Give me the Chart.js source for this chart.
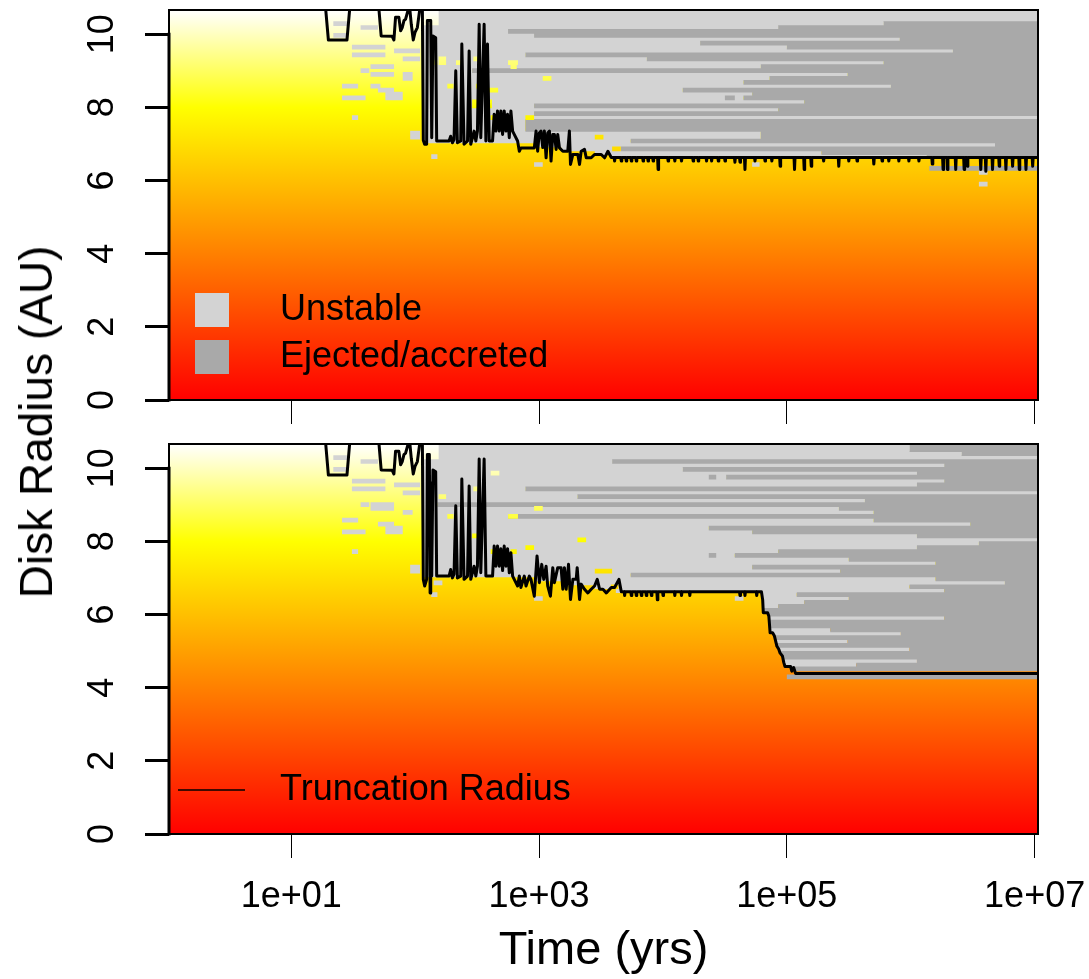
<!DOCTYPE html>
<html>
<head>
<meta charset="utf-8">
<title>Disk radius vs time</title>
<script src="https://cdn.jsdelivr.net/npm/chart.js@4.4.1/dist/chart.umd.min.js"></script>
<style>
  body { margin: 0; background: #fff; }
  #page { position: relative; width: 1089px; height: 979px; overflow: hidden; }
  canvas { position: absolute; left: 0; }
  #topChart { top: 0; }
  #botChart { top: 432px; }
  #ylabel {
    position: absolute; left: 36px; top: 422px;
    transform: translate(-50%, -50%) rotate(-90deg);
    font: 46px "Liberation Sans", Arial, sans-serif; line-height: 1;
    white-space: nowrap; color: #000;
  }
</style>
</head>
<body>
<div id="page">
  <canvas id="topChart" width="1089" height="432"></canvas>
  <canvas id="botChart" width="1089" height="547"></canvas>
  <div id="ylabel">Disk Radius (AU)</div>
</div>
<script>
// times are log10(years), radii in AU

const xTickValues = [10, 1e3, 1e5, 1e7];
const xTickLabels = ['1e+01', '1e+03', '1e+05', '1e+07'];
const yTickValues = [0, 2, 4, 6, 8, 10];
const yTickLabels = ['0', '2', '4', '6', '8', '10'];

// radius bins (AU) of the stability grid
const rowRadius = [10.610, 10.503, 10.396, 10.289, 10.182, 10.075, 9.968, 9.861, 9.754, 9.647,
  9.540, 9.433, 9.326, 9.219, 9.112, 9.005, 8.898, 8.791, 8.684, 8.577,
  8.470, 8.363, 8.256, 8.149, 8.042, 7.935, 7.828, 7.721, 7.614, 7.507,
  7.400, 7.293, 7.186, 7.079, 6.972, 6.865, 6.758, 6.651, 6.544, 6.437,
  6.330, 6.223, 6.116, 6.009, 5.902, 5.795, 5.688, 5.581, 5.474, 5.367,
  5.260, 5.153, 5.046, 4.939, 4.832, 4.725, 4.618, 4.511, 4.404, 4.297];

// top panel: time each bin turns unstable / gets ejected (null = never)
const topUnstable = [2.19, 2.19, 2.19, 2.19, 2.06, 2.06, 2.06, 2.06, 2.06, 2.06,
  2.06, 2.06, 2.06, 2.06, 2.06, 2.06, 2.06, 2.06, 2.06, 2.06,
  2.06, 2.06, 2.06, 2.06, 2.06, 2.06, 2.06, 2.06, 2.06, 2.06,
  2.06, 2.06, 2.06, 2.06, 2.96, 3.18, 3.45, 3.58];
const topEjected = [null, null, null, 5.78, 4.93, 2.75, 2.96, 5.91, 4.30, 5.00,
  6.34, 2.89, 3.87, 5.78, 4.79, 2.46, 5.49, 4.86, 4.65, 5.84,
  4.16, 4.72, 4.65, 5.14, 2.96, 4.93, 2.96, null, 2.89, 2.89,
  2.89, 4.79, 4.79, 3.74, 6.68, 3.66, 5.28, 6.13];
// isolated cells [from, to, bin]
const topSpeckles = [[1.34, 1.45, 3], [1.34, 1.45, 6], [1.56, 1.70, 4], [1.49, 1.76, 9], [1.49, 1.76, 11],
  [1.64, 1.83, 14], [1.56, 1.63, 15], [1.64, 1.83, 16], [1.41, 1.54, 19], [1.64, 1.72, 19],
  [1.41, 1.60, 22], [1.70, 1.83, 20], [1.76, 1.90, 21], [1.76, 1.90, 22], [1.49, 1.54, 27],
  [1.90, 1.98, 16], [1.90, 1.98, 17], [1.83, 2.04, 10], [1.90, 2.04, 12], [1.96, 2.04, 31],
  [1.96, 2.04, 32], [2.13, 2.18, 37], [2.96, 3.03, 39], [4.72, 4.78, 39], [6.55, 6.62, 41], [6.55, 6.62, 44]];
const topDarkCells = [[6.15, 7.03, 40], [4.50, 4.58, 22]];
const topHoles = [[2.19, 2.25, 12], [2.19, 2.25, 13], [2.47, 2.51, 12], [2.75, 2.83, 13], [2.26, 2.31, 19],
  [2.49, 2.51, 19], [2.59, 2.67, 20], [2.46, 2.50, 23], [2.46, 2.50, 24], [2.59, 2.62, 23],
  [2.59, 2.62, 24], [2.33, 2.37, 13], [2.13, 2.18, 13], [2.77, 2.82, 14], [3.03, 3.10, 17],
  [2.89, 2.96, 27], [3.45, 3.52, 32], [3.59, 3.66, 35], [2.47, 2.50, 32], [2.61, 2.69, 27]];

// top panel truncation radius
const topTruncT = [0.00, 1.27, 1.30, 1.45, 1.48, 1.70, 1.726, 1.815, 1.829, 1.842,
  1.869, 1.883, 1.896, 1.910, 1.923, 1.942, 1.958, 1.969, 1.985, 1.999,
  2.018, 2.036, 2.045, 2.058, 2.066, 2.077, 2.093, 2.099, 2.126, 2.134,
  2.144, 2.166, 2.174, 2.206, 2.233, 2.274, 2.287, 2.301, 2.314, 2.328,
  2.341, 2.368, 2.377, 2.395, 2.423, 2.436, 2.449, 2.476, 2.490, 2.503,
  2.517, 2.530, 2.557, 2.571, 2.584, 2.598, 2.625, 2.638, 2.652, 2.665,
  2.679, 2.692, 2.706, 2.719, 2.733, 2.746, 2.760, 2.773, 2.787, 2.800,
  2.827, 2.841, 2.854, 2.881, 2.908, 2.935, 2.962, 2.976, 2.989, 3.002,
  3.016, 3.030, 3.043, 3.057, 3.070, 3.084, 3.097, 3.111, 3.124, 3.138,
  3.151, 3.165, 3.192, 3.232, 3.245, 3.254, 3.273, 3.313, 3.327, 3.340,
  3.367, 3.381, 3.421, 3.448, 3.502, 3.529, 3.556, 3.583];
const topTruncR = [11.0, 11.0, 9.84, 9.84, 11.0, 11.0, 9.95, 9.94, 9.84, 10.46,
  10.46, 10.09, 10.18, 10.37, 10.41, 10.64, 10.66, 10.27, 9.84, 10.05,
  10.18, 10.64, 11.0, 11.0, 7.10, 6.99, 6.99, 10.37, 10.37, 7.17,
  9.95, 9.90, 7.08, 7.08, 7.08, 7.08, 7.21, 7.03, 7.12, 9.00,
  7.03, 7.08, 9.73, 6.99, 7.08, 9.54, 6.99, 7.35, 7.08, 7.35,
  10.27, 7.17, 10.27, 7.08, 9.73, 7.08, 7.08, 7.81, 7.35, 7.90,
  7.35, 7.90, 7.26, 7.90, 7.35, 7.81, 7.17, 7.90, 7.35, 7.26,
  7.08, 6.80, 6.89, 6.89, 6.89, 6.89, 6.89, 7.35, 6.80, 7.30,
  7.35, 6.90, 7.35, 6.62, 7.30, 7.35, 6.53, 7.26, 7.26, 6.85,
  7.26, 6.89, 6.80, 6.80, 7.35, 6.44, 6.71, 6.71, 6.44, 6.80,
  6.85, 6.62, 6.62, 6.71, 6.71, 6.62, 6.80, 6.63];
const topBase = 6.63;
const topDipT = [3.610, 3.664, 3.704, 3.745, 3.785, 3.840, 3.880, 3.921, 3.961, 4.042,
  4.096, 4.150, 4.244, 4.285, 4.352, 4.393, 4.447, 4.501, 4.581, 4.622,
  4.662, 4.743, 4.824, 4.879, 4.946, 5.062, 5.140, 5.197, 5.297, 5.419,
  5.500, 5.567, 5.702, 5.769, 5.823, 5.904, 5.985, 6.066, 6.174, 6.261,
  6.296, 6.363, 6.431, 6.457, 6.565, 6.606, 6.660, 6.714, 6.768, 6.822,
  6.876, 6.930, 6.984];
const topDipR = [6.53, 6.53, 6.53, 6.53, 6.53, 6.53, 6.53, 6.53, 6.30, 6.53,
  6.53, 6.53, 6.53, 6.53, 6.53, 6.53, 6.53, 6.53, 6.50, 6.50,
  6.30, 6.53, 6.53, 6.53, 6.39, 6.30, 6.30, 6.39, 6.53, 6.39,
  6.53, 6.53, 6.45, 6.53, 6.53, 6.53, 6.53, 6.53, 6.45, 6.30,
  6.30, 6.30, 6.30, 6.39, 6.30, 6.25, 6.30, 6.39, 6.30, 6.39,
  6.30, 6.30, 6.39];
const topTailT = [7.03];
const topTailR = [6.63];

// bottom panel
const botUnstable = [2.19, 2.19, 2.19, 2.19, 2.06, 2.06, 2.06, 2.06, 2.06, 2.06,
  2.06, 2.06, 2.06, 2.06, 2.06, 2.06, 2.06, 2.06, 2.06, 2.06,
  2.06, 2.06, 2.06, 2.06, 2.06, 2.06, 2.06, 2.06, 2.06, 2.06,
  2.06, 2.06, 2.06, 2.06, 2.96, 3.18, 3.45, 3.62, 4.805, 4.805,
  4.81, 4.81, 4.81, 4.85, 4.86, 4.86, 4.865, 4.865, 4.89, 4.91,
  4.915, 4.92, 4.94, 4.95, 4.97, 4.975, 4.98, 5.04, null, 5.00];
const botEjected = [5.99, 5.99, 6.41, null, 3.59, 6.27, 4.16, 6.05, 4.51, 6.27,
  6.05, 2.89, null, 3.31, 5.63, 2.18, 5.42, 5.70, 2.75, 5.70,
  6.48, 4.37, 4.72, 6.05, null, 6.55, 6.05, 4.93, 4.58, 5.50,
  6.20, 4.72, 5.43, 3.74, 6.20, 6.76, 5.99, 6.27, 5.08, 5.50,
  5.14, 4.93, 4.81, 4.85, 6.27, 4.86, 4.865, 5.35, 5.92, 4.91,
  5.49, 4.92, 5.99, 4.95, 4.97, 6.05, 5.56, 5.04, null, 5.00];
const botSpeckles = [[1.34, 1.45, 3], [1.34, 1.45, 6], [1.56, 1.70, 4], [1.49, 1.76, 9], [1.49, 1.76, 11],
  [1.64, 1.83, 15], [1.64, 1.83, 16], [1.56, 1.63, 15], [1.41, 1.54, 19], [1.41, 1.60, 22],
  [1.70, 1.83, 20], [1.76, 1.90, 21], [1.76, 1.90, 22], [1.49, 1.54, 27], [1.90, 1.98, 17],
  [1.83, 2.04, 10], [1.90, 2.04, 12], [1.96, 2.04, 31], [1.96, 2.04, 32], [2.13, 2.18, 38],
  [2.15, 2.22, 35], [2.96, 3.03, 39], [4.58, 4.65, 39]];
const botDarkCells = [[4.37, 4.43, 8], [4.37, 4.43, 28]];
const botHoles = [[2.96, 3.03, 16], [3.31, 3.38, 24], [2.89, 2.96, 26], [3.45, 3.59, 32], [2.77, 2.82, 27],
  [3.58, 3.64, 36], [2.61, 2.68, 7], [2.19, 2.25, 13], [2.47, 2.51, 11], [2.26, 2.31, 18],
  [2.46, 2.52, 23], [2.75, 2.83, 18], [2.61, 2.69, 27]];

const botTruncT = [0.00, 1.27, 1.30, 1.45, 1.48, 1.70, 1.726, 1.815, 1.829, 1.842,
  1.869, 1.883, 1.896, 1.910, 1.923, 1.942, 1.958, 1.969, 1.985, 1.999,
  2.018, 2.036, 2.045, 2.058, 2.066, 2.077, 2.093, 2.099, 2.115, 2.121,
  2.126, 2.134, 2.144, 2.166, 2.174, 2.206, 2.233, 2.274, 2.287, 2.301,
  2.314, 2.328, 2.341, 2.368, 2.377, 2.395, 2.423, 2.436, 2.449, 2.476,
  2.490, 2.503, 2.517, 2.530, 2.557, 2.571, 2.598, 2.625, 2.638, 2.652,
  2.665, 2.679, 2.692, 2.706, 2.719, 2.733, 2.746, 2.760, 2.773, 2.787,
  2.800, 2.827, 2.841, 2.854, 2.881, 2.895, 2.922, 2.935, 2.962, 2.984,
  3.003, 3.022, 3.038, 3.057, 3.070, 3.092, 3.111, 3.124, 3.151, 3.178,
  3.192, 3.205, 3.219, 3.238, 3.254, 3.273, 3.300, 3.308, 3.327, 3.340,
  3.367, 3.394, 3.421, 3.448, 3.470, 3.489, 3.516, 3.543, 3.583, 3.610,
  3.645, 3.664];
const botTruncR = [11.0, 11.0, 9.81, 9.81, 11.0, 11.0, 9.95, 9.94, 9.84, 10.46,
  10.46, 10.09, 10.18, 10.37, 10.41, 10.64, 10.66, 10.27, 9.84, 10.05,
  10.18, 10.64, 11.0, 11.0, 6.96, 6.78, 6.96, 10.37, 10.37, 6.59,
  9.60, 7.05, 9.95, 9.90, 7.05, 7.05, 7.05, 7.05, 7.23, 7.00,
  7.10, 8.97, 7.00, 7.05, 9.70, 6.96, 7.05, 9.51, 6.96, 7.32,
  7.05, 7.32, 10.25, 7.14, 10.25, 7.05, 7.05, 7.05, 7.87, 7.32,
  7.87, 7.32, 7.80, 7.20, 7.87, 7.32, 7.80, 7.14, 7.69, 7.05,
  6.96, 6.78, 7.05, 6.74, 7.05, 6.78, 7.05, 6.96, 6.50, 7.60,
  6.87, 7.37, 6.96, 7.32, 6.78, 6.50, 7.28, 6.87, 7.28, 7.28,
  6.69, 7.28, 6.69, 7.37, 6.41, 6.96, 6.96, 7.28, 6.41, 6.83,
  6.69, 6.59, 6.69, 6.78, 6.96, 6.69, 6.69, 6.59, 6.74, 6.74,
  6.96, 6.62];
const botBase = 6.62;
const botDipT = [3.691, 3.745, 3.785, 3.826, 3.866, 3.907, 3.955, 4.001, 4.096, 4.150,
  4.217, 4.622, 4.662, 4.757];
const botDipR = [6.52, 6.52, 6.52, 6.52, 6.52, 6.52, 6.40, 6.52, 6.52, 6.52,
  6.52, 6.52, 6.52, 6.52];
const botTailT = [4.795, 4.805, 4.810, 4.845, 4.855, 4.865, 4.885, 4.900, 4.920, 4.935,
  4.945, 4.965, 4.975, 4.985, 5.030, 5.040, 5.055, 5.070, 7.030];
const botTailR = [6.62, 6.40, 6.05, 6.05, 5.95, 5.50, 5.50, 5.41, 5.13, 5.05,
  4.95, 4.86, 4.69, 4.58, 4.58, 4.45, 4.55, 4.39, 4.39];

// ---- drawing setup ----
const X_MIN = 0.0137, X_MAX = 7.027, X_END = 7.03;
const Y_MAX = 10.66;
const ROW_H = 0.107;
const FONT = '"Liberation Sans", Arial, sans-serif';
const LIGHT = '#d3d3d3', DARK = '#a9a9a9';

function yrs(L) { return Math.pow(10, L); }

function segmentPoints(list) {
  const pts = [];
  list.forEach(s => {
    const r = rowRadius[s[2]];
    pts.push({x: yrs(s[0]), y: r}, {x: yrs(s[1]), y: r}, {x: yrs(s[1]), y: null});
  });
  return pts;
}

function unstableSegs(tU, tE) {
  const out = [];
  tU.forEach((a, k) => {
    if (a === null) return;
    const b = tE[k] === null ? X_END : tE[k];
    if (b > a) out.push([a, b, k]);
  });
  return out;
}

function ejectedSegs(tU, tE) {
  const out = [];
  tE.forEach((b, k) => {
    if (b !== null && tU[k] !== null) out.push([Math.max(b, tU[k]), X_END, k]);
  });
  return out;
}

function truncPoints(T, R, dipT, dipR, base, tailT, tailR) {
  const pts = T.map((t, i) => ({x: yrs(t), y: R[i]}));
  dipT.forEach((t, i) => {
    pts.push({x: yrs(t - 0.004), y: base}, {x: yrs(t), y: dipR[i]}, {x: yrs(t + 0.004), y: base});
  });
  tailT.forEach((t, i) => pts.push({x: yrs(t), y: tailR[i]}));
  return pts;
}

function heatGradient(chart) {
  const {ctx, chartArea, scales} = chart;
  if (!chartArea) return '#ffff00';
  const g = ctx.createLinearGradient(0, scales.y.getPixelForValue(0), 0, scales.y.getPixelForValue(Y_MAX));
  g.addColorStop(0, '#ff0000');
  g.addColorStop(0.375, '#ff8000');
  g.addColorStop(0.75, '#ffff00');
  g.addColorStop(1, '#ffffff');
  return g;
}

const rowWidth = c => {
  const y = c.chart.scales.y;
  return Math.abs(y.getPixelForValue(0) - y.getPixelForValue(ROW_H)) + 0.8;
};

const heatBackground = {
  id: 'heatBackground',
  beforeDatasetsDraw(chart) {
    const {ctx, chartArea: a} = chart;
    ctx.save();
    ctx.fillStyle = heatGradient(chart);
    ctx.fillRect(a.left, a.top, a.right - a.left, a.bottom - a.top);
    ctx.restore();
  }
};

const frame = {
  id: 'frame',
  afterDraw(chart, args, opts) {
    const {ctx, chartArea: a, scales: {y}} = chart;
    ctx.save();
    ctx.strokeStyle = '#000';
    ctx.lineWidth = 2;
    ctx.strokeRect(a.left, a.top, a.right - a.left, a.bottom - a.top);
    // heavy y axis line over the labelled range
    ctx.lineWidth = 3;
    ctx.beginPath();
    ctx.moveTo(a.left, y.getPixelForValue(yTickValues[0]) + 1.5);
    ctx.lineTo(a.left, y.getPixelForValue(yTickValues[yTickValues.length - 1]) - 1.5);
    ctx.stroke();
    // legend
    ctx.font = '36px ' + FONT;
    ctx.textBaseline = 'middle';
    (opts.items || []).forEach(it => {
      const cy = a.top + it.dy;
      if (it.kind === 'box') {
        ctx.fillStyle = it.color;
        ctx.fillRect(a.left + 26, cy - 17, 34, 34);
      } else {
        ctx.strokeStyle = it.color;
        ctx.lineWidth = 1.5;
        ctx.beginPath();
        ctx.moveTo(a.left + 9, cy);
        ctx.lineTo(a.left + 76, cy);
        ctx.stroke();
      }
      ctx.fillStyle = '#000';
      ctx.fillText(it.text, a.left + 111, cy);
    });
    ctx.restore();
  }
};

function panelDatasets(unst, ejec, speck, darkCells, holes, trunc) {
  const common = {pointRadius: 0, spanGaps: false, clip: 0, tension: 0, fill: false, borderCapStyle: 'butt'};
  return [
    {label: 'Truncation Radius', data: trunc, borderColor: '#000', borderWidth: 3, borderJoinStyle: 'round', order: 1},
    {label: 'stable cells', data: segmentPoints(holes), borderColor: c => heatGradient(c.chart), borderWidth: rowWidth, order: 2},
    {label: 'Ejected cells', data: segmentPoints(darkCells), borderColor: DARK, borderWidth: rowWidth, order: 3},
    {label: 'Unstable cells', data: segmentPoints(speck), borderColor: LIGHT, borderWidth: rowWidth, order: 3},
    {label: 'Ejected/accreted', data: segmentPoints(ejectedSegs(unst, ejec)), borderColor: DARK, borderWidth: rowWidth, order: 4},
    {label: 'Unstable', data: segmentPoints(unstableSegs(unst, ejec)), borderColor: LIGHT, borderWidth: rowWidth, order: 5}
  ].map(d => Object.assign({}, common, d));
}

function makePanel(id, o) {
  return new Chart(document.getElementById(id), {
    type: 'line',
    data: {datasets: o.datasets},
    options: {
      responsive: false,
      animation: false,
      events: [],
      layout: {padding: {top: o.padTop, right: 51, left: 0, bottom: 0}},
      plugins: {legend: {display: false}, tooltip: {enabled: false}, frame: {items: o.legend}},
      scales: {
        x: {
          type: 'logarithmic', min: yrs(X_MIN), max: yrs(X_MAX), bounds: 'data',
          afterBuildTicks: s => { s.ticks = xTickValues.map(v => ({value: v})); },
          afterFit: s => { s.height = o.xHeight; s.paddingLeft = 0; s.paddingRight = 0; },
          border: {display: false},
          grid: {drawOnChartArea: false, drawTicks: true, tickLength: 24, tickWidth: 1, tickColor: '#000'},
          ticks: {display: o.xLabels, autoSkip: false, minRotation: 0, maxRotation: 0, padding: 17,
            color: '#000', font: {family: FONT, size: 36}, callback: (v, i) => xTickLabels[i]},
          title: {display: o.xLabels, text: 'Time (yrs)', color: '#000', font: {family: FONT, size: 47},
            padding: {top: 0, bottom: 0}}
        },
        y: {
          min: 0, max: Y_MAX,
          afterBuildTicks: s => { s.ticks = yTickValues.map(v => ({value: v})); },
          afterFit: s => { s.width = 169; s.paddingTop = 0; s.paddingBottom = 0; },
          border: {display: false},
          grid: {drawOnChartArea: false, drawTicks: true, tickLength: 24, tickWidth: 3, tickColor: '#000'},
          ticks: {autoSkip: false, minRotation: 90, maxRotation: 90, crossAlign: 'center', padding: 22,
            color: '#000', font: {family: FONT, size: 36}, callback: (v, i) => yTickLabels[i]}
        }
      }
    },
    plugins: [heatBackground, frame]
  });
}

makePanel('topChart', {
  padTop: 10, xHeight: 32, xLabels: false,
  datasets: panelDatasets(topUnstable, topEjected, topSpeckles, topDarkCells, topHoles,
    truncPoints(topTruncT, topTruncR, topDipT, topDipR, topBase, topTailT, topTailR)),
  legend: [
    {kind: 'box', color: LIGHT, text: 'Unstable', dy: 300},
    {kind: 'box', color: DARK, text: 'Ejected/accreted', dy: 347}
  ]
});

makePanel('botChart', {
  padTop: 12, xHeight: 145, xLabels: true,
  datasets: panelDatasets(botUnstable, botEjected, botSpeckles, botDarkCells, botHoles,
    truncPoints(botTruncT, botTruncR, botDipT, botDipR, botBase, botTailT, botTailR)),
  legend: [
    {kind: 'line', color: '#000', text: 'Truncation Radius', dy: 346}
  ]
});
</script>
</body>
</html>
